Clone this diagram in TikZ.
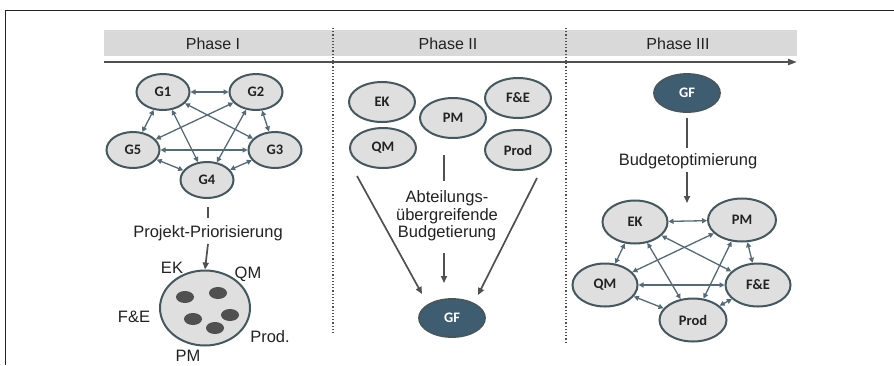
\documentclass[tikz,border=0pt]{standalone}
\usepackage{fontspec}
\setmainfont{Liberation Sans}
\newfontfamily\cf{Carlito}
\usetikzlibrary{shapes.geometric,arrows.meta}
\definecolor{edgec}{HTML}{46575F}
\definecolor{nodefill}{HTML}{DFDFDF}
\definecolor{arrowc}{HTML}{566A75}
\definecolor{gfdark}{HTML}{3F5D70}
\definecolor{textc}{HTML}{222222}
\definecolor{linec}{HTML}{505050}
\definecolor{bandc}{HTML}{D9D9D9}
\tikzset{
  ell/.style={ellipse, draw=edgec, line width=2pt, fill=nodefill, inner sep=0pt,
    font=\cf\bfseries\fontsize{14.5}{16}\selectfont, text=textc},
  gsize/.style={minimum width=53, minimum height=36},
  dsize/.style={minimum width=66, minimum height=40},
  psize/.style={minimum width=65, minimum height=43},
  gfnode/.style={ellipse, draw=edgec, line width=1.8pt, fill=gfdark, inner sep=0pt,
    font=\cf\bfseries\fontsize{14.5}{16}\selectfont, text=white, minimum width=66, minimum height=38},
  link/.style={arrowc, line width=1.3pt, {Triangle[length=5pt,width=5pt]}-{Triangle[length=5pt,width=5pt]}},
  body/.style={font=\fontsize{16.5}{18.5}\selectfont, text=textc, inner sep=1pt},
  flow/.style={linec, line width=1.7pt},
  flowarr/.style={linec, line width=1.7pt, -{Triangle[length=7pt,width=6pt]}},
  dot/.style={ellipse, fill=linec, minimum width=18, minimum height=12, inner sep=0pt},
}
\begin{document}
\begin{tikzpicture}[x=1pt,y=-1pt]
\useasboundingbox (0,0) rectangle (894,365);
\fill[white] (0,0) rectangle (894,365);
% frame
\draw[textc, line width=1pt] (5,365) -- (5,10) -- (894,10);
% header band
\fill[bandc] (104,30) rectangle (797,56);
\node[body, font=\fontsize{16}{18}\selectfont] (h1) at (213,44) {Phase I};
\node[body, font=\fontsize{16}{18}\selectfont] (h2) at (448,44) {Phase II};
\node[body, font=\fontsize{16}{18}\selectfont] (h3) at (678,44) {Phase III};
\coordinate (axs) at (104,62);
\coordinate (axe) at (797,62);
\draw[linec, line width=2pt, -{Triangle[length=9pt,width=6pt]}] (axs) -- (axe);
% dotted separators
\coordinate (d1a) at (333,28); \coordinate (d1b) at (333,334);
\coordinate (d2a) at (566,28); \coordinate (d2b) at (566,343);
\draw[linec, line width=1.2pt, dotted] (d1a) -- (d1b);
\draw[linec, line width=1.2pt, dotted] (d2a) -- (d2b);

% ---------- Phase I ----------
\node[ell, gsize] (G1) at (163,92) {G1};
\node[ell, gsize] (G2) at (256,92) {G2};
\node[ell, gsize] (G3) at (275,150) {G3};
\node[ell, gsize] (G5) at (133,150) {G5};
\node[ell, gsize] (G4) at (207,180) {G4};
\draw[link] (G1) -- (G2);
\draw[link] (G2) -- (G3);
\draw[link] (G3) -- (G4);
\draw[link] (G4) -- (G5);
\draw[link] (G5) -- (G1);
\draw[link] (G1) -- (G3);
\draw[link] (G1) -- (G4);
\draw[link] (G2) -- (G4);
\draw[link] (G2) -- (G5);
\draw[link] (G3) -- (G5);
\node[body] (prio) at (208,233) {Projekt-Priorisierung};
\coordinate (p1a) at (208,207); \coordinate (p1b) at (208,218);
\draw[flow] (p1a) -- (p1b);
\node[ellipse, draw=edgec, line width=2pt, fill=nodefill, minimum width=90, minimum height=75] (pool) at (205,308) {};
\draw[flowarr] (prio.south) ++(0,2) -- (pool.north);
\node[dot] (k1) at (185,297) {};
\node[dot] (k2) at (218,293) {};
\node[dot] (k3) at (193,319) {};
\node[dot] (k4) at (230,315) {};
\node[dot] (k5) at (215,328) {};
\node[body] (lek) at (172,268) {EK};
\node[body] (lqm) at (248,274) {QM};
\node[body] (lfe) at (134,317) {F\&E};
\node[body] (lpr) at (270,337) {Prod.};
\node[body] (lpm) at (188,356) {PM};

% ---------- Phase II ----------
\node[ell, dsize] (EK2) at (382,102) {EK};
\node[ell, dsize] (QM2) at (383,148) {QM};
\node[ell, dsize] (PM2) at (453,118) {PM};
\node[ell, dsize] (FE2) at (518,98) {F\&E};
\node[ell, dsize] (PR2) at (518,150) {Prod};
\node[body, align=center, font=\fontsize{16.5}{17.5}\selectfont] (abt) at (447,216) {Abteilungs-\\übergreifende\\Budgetierung};
\node[gfnode] (GF2) at (452,318) {GF};
\coordinate (v2a) at (444,155); \coordinate (v2b) at (444,181);
\draw[flow] (v2a) -- (v2b);
\coordinate (a2a) at (444,253); \coordinate (a2b) at (444,283);
\draw[flowarr] (a2a) -- (a2b);
\coordinate (l2a) at (357,176); \coordinate (l2b) at (422,294);
\coordinate (r2a) at (537,178); \coordinate (r2b) at (478,295);
\draw[flowarr] (l2a) -- (l2b);
\draw[flowarr] (r2a) -- (r2b);

% ---------- Phase III ----------
\node[gfnode] (GF3) at (687,93) {GF};
\node[body] (bopt) at (688,161) {Budgetoptimierung};
\coordinate (v3a) at (687,118); \coordinate (v3b) at (687,148);
\draw[flow] (v3a) -- (v3b);
\coordinate (a3a) at (687,172); \coordinate (a3b) at (687,203);
\draw[flowarr] (a3a) -- (a3b);
\node[ell, psize] (EK3) at (635,222) {EK};
\node[ell, psize, minimum width=68] (PM3) at (742,220) {PM};
\node[ell, psize] (QM3) at (605,285) {QM};
\node[ell, psize] (FE3) at (758,285) {F\&E};
\node[ell, psize, minimum width=67] (PR3) at (693,320) {Prod};
\draw[link] (EK3) -- (PM3);
\draw[link] (PM3) -- (FE3);
\draw[link] (FE3) -- (PR3);
\draw[link] (PR3) -- (QM3);
\draw[link] (QM3) -- (EK3);
\draw[link] (EK3) -- (FE3);
\draw[link] (EK3) -- (PR3);
\draw[link] (PM3) -- (PR3);
\draw[link] (PM3) -- (QM3);
\draw[link] (FE3) -- (QM3);
\end{tikzpicture}
\end{document}
